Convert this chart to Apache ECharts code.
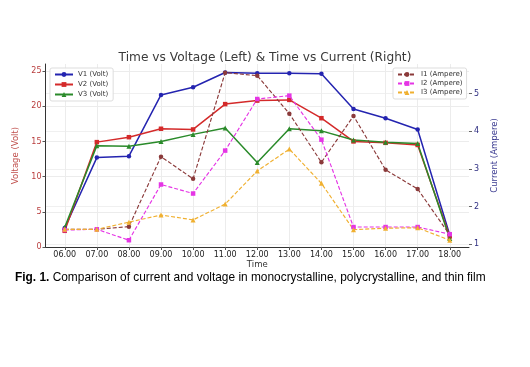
<!DOCTYPE html>
<html><head><meta charset="utf-8">
<script src="https://cdn.jsdelivr.net/npm/echarts@6/dist/echarts.min.js"></script>
<style>html,body{margin:0;padding:0;background:#fff}#c{width:530px;height:367px}</style>
</head><body><div id="c"></div>
<script>
const categories = ["06.00","07.00","08.00","09.00","10.00","11.00","12.00","13.00","14.00","15.00","16.00","17.00","18.00"];
const V1 = [2.7,12.7,12.9,21.6,22.7,24.8,24.7,24.7,24.6,19.6,18.3,16.7,1.7];
const V2 = [2.3,14.9,15.6,16.8,16.7,20.3,20.8,20.9,18.3,15.0,14.8,14.5,1.5];
const V3 = [2.8,14.4,14.3,15.0,16.0,16.9,12.0,16.8,16.5,15.2,14.9,14.7,1.2];
const I1 = [1.40,1.40,1.47,3.33,2.74,5.56,5.48,4.47,3.18,4.41,2.98,2.47,1.25];
const I2 = [1.38,1.40,1.11,2.59,2.35,3.49,4.86,4.95,3.78,1.46,1.46,1.46,1.27];
const I3 = [1.40,1.40,1.59,1.78,1.65,2.07,2.95,3.53,2.62,1.39,1.43,1.44,1.11];
const leftTicks = [0,5,10,15,20,25];
const rightTicks = [1,2,3,4,5];

const pairs = arr => arr.map((v,i)=>[i,v]);
const F = 'DejaVu Sans';
function vSeries(name, data, color, symbol){
  return {name, type:'line', yAxisIndex:0, data:pairs(data), symbol, symbolSize: symbol==='triangle'?5:4.5,
    lineStyle:{color, width:1.5}, itemStyle:{color}, z:3};
}
function iSeries(name, data, color, symbol){
  return {name, type:'line', yAxisIndex:1, data:pairs(data), symbol, symbolSize: symbol==='triangle'?5:4.5,
    lineStyle:{color, width:1.15, type:[4,2]}, itemStyle:{color}, z:4};
}
const chart = echarts.init(document.getElementById('c'), null, {renderer:'canvas'});
chart.setOption({
  animation:false,
  backgroundColor:'#fff',
  title:{text:'Time vs Voltage (Left) & Time vs Current (Right)', left:'center', top:47,
    textStyle:{fontFamily:F, fontSize:12.2, fontWeight:'normal', color:'#3a3a3a'}},
  grid:{left:45.5, right:61, top:64, bottom:120},
  legend:[
    {data:['V1 (Volt)','V2 (Volt)','V3 (Volt)'], orient:'vertical', left:50, top:68, itemGap:3,
     itemWidth:18, itemHeight:6, padding:[3,5,3,4], backgroundColor:'rgba(255,255,255,0.9)', borderColor:'#ddd', borderWidth:1, borderRadius:2,
     textStyle:{fontFamily:F, fontSize:7, color:'#333'}},
    {data:['I1 (Ampere)','I2 (Ampere)','I3 (Ampere)'], orient:'vertical', left:393, top:68, itemGap:2,
     itemWidth:18, itemHeight:6, padding:[3,4,3,4], backgroundColor:'rgba(255,255,255,0.9)', borderColor:'#ddd', borderWidth:1, borderRadius:2,
     textStyle:{fontFamily:F, fontSize:7, color:'#333'}}
  ],
  xAxis:{type:'value', min:-0.6, max:12.6, name:'Time', nameLocation:'middle', nameGap:12,
    nameTextStyle:{fontFamily:F, fontSize:8.5, color:'#333'},
    axisLine:{show:true, lineStyle:{color:'#333', width:1}},
    axisTick:{show:true, length:3, customValues:categories.map((c,i)=>i), lineStyle:{color:'#555'}},
    axisLabel:{customValues:categories.map((c,i)=>i), formatter:v=>categories[v], margin:4, fontFamily:F, fontSize:8, color:'#222'},
    splitLine:{show:true, lineStyle:{color:'#ececec', width:1}}},
  yAxis:[
    {type:'value', min:0, max:26, name:'Voltage (Volt)', nameLocation:'middle', nameGap:15,
     nameTextStyle:{fontFamily:F, fontSize:8.5, color:'#c0504d'},
     axisLine:{show:true, onZero:false, lineStyle:{color:'#333', width:1}},
     axisTick:{show:true, length:3, customValues:leftTicks, lineStyle:{color:'#555'}},
     axisLabel:{customValues:leftTicks, margin:4, fontFamily:F, fontSize:8, color:'#b83c3c'},
     splitLine:{show:true, lineStyle:{color:'#ececec', width:1}}},
    {type:'value', min:0.93, max:5.79, name:'Current (Ampere)', nameLocation:'middle', nameGap:7,
     nameTextStyle:{fontFamily:F, fontSize:8.5, color:'#3a3a90'},
     axisLine:{show:false, onZero:false},
     axisTick:{show:true, length:3, customValues:rightTicks, lineStyle:{color:'#666'}},
     axisLabel:{customValues:rightTicks, margin:5, fontFamily:F, fontSize:8, color:'#2c2c80'},
     splitLine:{show:true, lineStyle:{color:'#f0f0f0', width:1}}}
  ],
  graphic:[{type:'text', left:15, top:272, style:{
    text:'{b|Fig. 1.} Comparison of current and voltage in monocrystalline, polycrystalline, and thin film',
    rich:{b:{fontWeight:'bold', fontFamily:'Liberation Sans', fontSize:11.9, fill:'#000'}},
    fontFamily:'Liberation Sans', fontSize:11.9, fill:'#000'}}],
  series:[
    vSeries('V1 (Volt)', V1, '#2424b0', 'circle'),
    vSeries('V2 (Volt)', V2, '#d42a2a', 'rect'),
    vSeries('V3 (Volt)', V3, '#2a8a2a', 'triangle'),
    iSeries('I1 (Ampere)', I1, '#8b3a3a', 'circle'),
    iSeries('I2 (Ampere)', I2, '#e535e5', 'rect'),
    iSeries('I3 (Ampere)', I3, '#f0b030', 'triangle')
  ]
});
</script></body></html>
